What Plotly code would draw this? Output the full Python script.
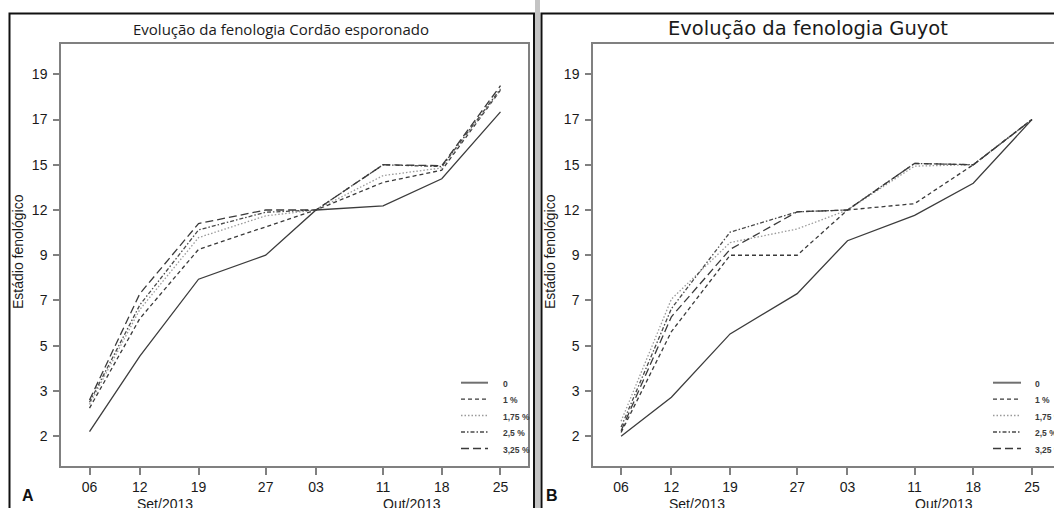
import pandas as pd
import plotly.graph_objects as go

W, H = 1054, 508

# Sampling dates (Sep-Oct 2013)
dates = ["2013-09-06", "2013-09-12", "2013-09-19", "2013-09-27",
         "2013-10-03", "2013-10-11", "2013-10-18", "2013-10-25"]
date_labels = ["06", "12", "19", "27", "03", "11", "18", "25"]

# Phenological stage scale: ordinal levels 1..9 labelled with stage codes
stage_levels = [1, 2, 3, 4, 5, 6, 7, 8, 9]
stage_labels = ["2", "3", "5", "7", "9", "12", "15", "17", "19"]

treatments = ["0", "1 %", "1,75 %", "2,5 %", "3,25 %"]

# Mean stage level per date, Cordão esporonado
cordao_0 = [1.10, 2.77, 4.47, 5.00, 6.00, 6.09, 6.69, 8.17]
cordao_1 = [1.62, 3.60, 5.13, 5.63, 6.00, 6.61, 6.88, 8.65]
cordao_175 = [1.70, 3.80, 5.39, 5.87, 6.00, 6.76, 6.93, 8.65]
cordao_25 = [1.75, 3.90, 5.56, 5.95, 6.00, 7.00, 6.96, 8.68]
cordao_325 = [1.80, 4.15, 5.70, 6.00, 6.00, 7.00, 6.98, 8.75]

# Mean stage level per date, Guyot
guyot_0 = [1.00, 1.86, 3.26, 4.15, 5.32, 5.88, 6.59, 8.00]
guyot_1 = [1.08, 3.31, 5.00, 5.00, 6.00, 6.14, 7.00, 8.00]
guyot_175 = [1.33, 4.03, 5.28, 5.58, 6.00, 6.97, 7.00, 8.00]
guyot_25 = [1.20, 3.82, 5.51, 5.96, 6.00, 7.03, 7.00, 8.00]
guyot_325 = [1.12, 3.64, 5.13, 5.96, 6.00, 7.03, 7.00, 8.00]

cordao = [cordao_0, cordao_1, cordao_175, cordao_25, cordao_325]
guyot = [guyot_0, guyot_1, guyot_175, guyot_25, guyot_325]

# Line style per treatment
styles = [
    dict(color="#3c3c3c", width=1.3, dash="solid"),
    dict(color="#3a3a3a", width=1.3, dash="4px,3px"),
    dict(color="#9a9a9a", width=1.3, dash="1.5px,2px"),
    dict(color="#4a4a4a", width=1.3, dash="4px,2px,1.5px,2px"),
    dict(color="#3a3a3a", width=1.3, dash="8px,4px"),
]


def px(x):
    return x / W


def py(y):
    return 1 - y / H


def shift(d, days):
    return (pd.Timestamp(d) + pd.Timedelta(days=days)).strftime("%Y-%m-%d %H:%M")


fig = go.Figure()

for series, style, name in zip(cordao, styles, treatments):
    fig.add_trace(go.Scatter(x=dates, y=series, mode="lines", name=name,
                             line=style, xaxis="x", yaxis="y",
                             hoverinfo="skip", showlegend=False))
for series, style, name in zip(guyot, styles, treatments):
    fig.add_trace(go.Scatter(x=dates, y=series, mode="lines", name=name,
                             line=style, xaxis="x2", yaxis="y2",
                             hoverinfo="skip", showlegend=False))

frame_col = "#808080"
tick_font = dict(family="Liberation Sans, Arial", size=14, color="#1a1a1a")
y_top, y_bot = 44, 466
y_range = [0.34, 9.67]

xcommon = dict(type="date", tickmode="array", tickvals=dates, ticktext=date_labels,
               showgrid=False, zeroline=False, showline=True, linecolor=frame_col,
               linewidth=1.5, ticks="outside", ticklen=7, tickwidth=1.5,
               tickcolor=frame_col, tickfont=tick_font, ticklabelstandoff=0,
               mirror=True, fixedrange=True)
ycommon = dict(tickmode="array", tickvals=stage_levels, ticktext=stage_labels,
               range=y_range, showgrid=False, zeroline=False, showline=True,
               linecolor=frame_col, linewidth=1.5, ticks="outside", ticklen=6,
               tickwidth=1.5, tickcolor=frame_col, tickfont=tick_font,
               ticklabelstandoff=3, fixedrange=True)

fig.update_layout(
    width=W, height=H, autosize=False,
    margin=dict(l=0, r=0, t=0, b=0),
    paper_bgcolor="white", plot_bgcolor="white",
    xaxis=dict(xcommon, domain=[px(61), px(528)], anchor="y",
               range=[shift(dates[0], -3.40), shift(dates[-1], 3.28)]),
    yaxis=dict(ycommon, domain=[py(y_bot), py(y_top)], anchor="x", mirror=True),
    xaxis2=dict(xcommon, domain=[px(593), 1.0], anchor="y2",
                range=[shift(dates[0], -3.35), shift(dates[-1], 2.63)]),
    yaxis2=dict(ycommon, domain=[py(y_bot), py(y_top)], anchor="x2", mirror=False),
)

shapes = []
annotations = []

# Outer panel borders and separator
shapes.append(dict(type="rect", xref="paper", yref="paper",
                   x0=px(9.5), x1=px(534), y0=py(520), y1=py(13.5),
                   line=dict(color="#111111", width=2)))
shapes.append(dict(type="rect", xref="paper", yref="paper",
                   x0=px(535), x1=px(540), y0=py(520), y1=py(0),
                   fillcolor="#c4c4c4", line=dict(width=0)))
shapes.append(dict(type="rect", xref="paper", yref="paper",
                   x0=px(541.5), x1=px(1070), y0=py(520), y1=py(13.5),
                   line=dict(color="#111111", width=2)))

# Titles
annotations.append(dict(text="Evolução da fenologia Cordão esporonado",
                        xref="paper", yref="paper", x=px(281), y=py(29),
                        showarrow=False, xanchor="center", yanchor="middle",
                        font=dict(family="Open Sans", size=15, color="#1a1a1a")))
annotations.append(dict(text="Evolução da fenologia Guyot",
                        xref="paper", yref="paper", x=px(808), y=py(28),
                        showarrow=False, xanchor="center", yanchor="middle",
                        font=dict(family="DejaVu Sans", size=19.5, color="#1a1a1a")))

# Y axis titles
for xc in (18, 550):
    annotations.append(dict(text="Estádio fenológico", xref="paper", yref="paper",
                            x=px(xc), y=py(252), textangle=-90, showarrow=False,
                            xanchor="center", yanchor="middle",
                            font=dict(family="Liberation Sans, Arial", size=14,
                                      color="#1a1a1a")))

# Month labels and panel letters
for xa in ("x", "x2"):
    annotations.append(dict(text="Set/2013", xref=xa, yref="paper",
                            x="2013-09-15", y=py(503.5), showarrow=False,
                            xanchor="center", yanchor="middle", font=tick_font))
    annotations.append(dict(text="Out/2013", xref=xa, yref="paper",
                            x="2013-10-14 12:00", y=py(503.5), showarrow=False,
                            xanchor="center", yanchor="middle", font=tick_font))
annotations.append(dict(text="<b>A</b>", xref="paper", yref="paper", x=px(28), y=py(495),
                        showarrow=False, xanchor="center", yanchor="middle",
                        font=dict(family="Liberation Sans, Arial", size=16, color="#111")))
annotations.append(dict(text="<b>B</b>", xref="paper", yref="paper", x=px(552), y=py(495),
                        showarrow=False, xanchor="center", yanchor="middle",
                        font=dict(family="Liberation Sans, Arial", size=16, color="#111")))

# Legend keys drawn inside each panel
legend_rows = [382.7, 399.2, 415.5, 432.0, 448.5]
for x0, x1, xt in ((461, 488, 501), (993, 1021, 1033)):
    for name, style, yr in zip(treatments, styles, legend_rows):
        key_style = dict(style)
        if style["dash"] == "solid":
            key_style.update(color="#707070", width=2)
        shapes.append(dict(type="line", xref="paper", yref="paper",
                           x0=px(x0), x1=px(x1), y0=py(yr), y1=py(yr),
                           line=key_style))
        annotations.append(dict(text="<b>" + name + "</b>", xref="paper", yref="paper",
                                x=px(xt), y=py(yr + 1), showarrow=False,
                                xanchor="left", yanchor="middle",
                                font=dict(family="Liberation Sans, Arial", size=8.5,
                                          color="#3b3b3b")))

fig.update_layout(shapes=shapes, annotations=annotations)

fig.write_html("out.html")
